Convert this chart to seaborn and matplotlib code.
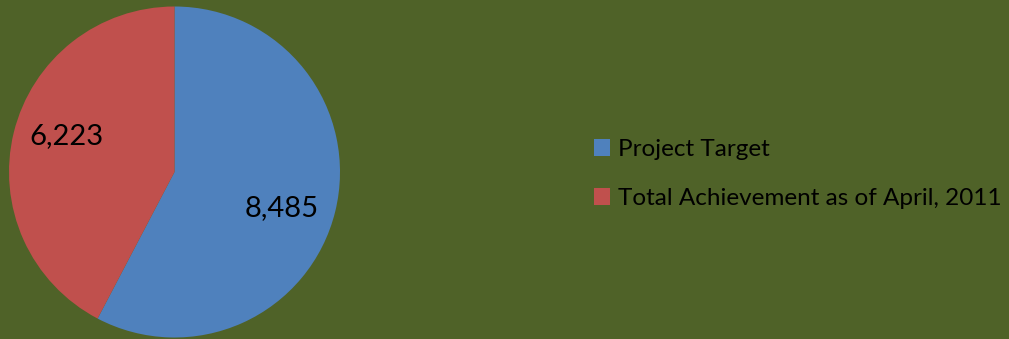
import matplotlib
matplotlib.use("Agg")
import numpy as np
import matplotlib.pyplot as plt
from matplotlib.patches import Patch
import seaborn as sns

# Project progress figures
categories = ["Project Target", "Total Achievement as of April, 2011"]
values = [8485, 6223]
colors = ["#4F81BD", "#C0504D"]
background = "#4F6228"

sns.set_style("white")
plt.rcParams["font.family"] = ["Lato", "DejaVu Sans"]

W, H = 1009, 339
fig = plt.figure(figsize=(W / 100, H / 100), dpi=100, facecolor=background)

# pie area: centre (174.5, 172) px, radius 165.5 px
cx, cy, r = 174.5, 172.0, 165.5
ax = fig.add_axes([(cx - r) / W, (H - cy - r) / H, 2 * r / W, 2 * r / H])
ax.set_facecolor(background)

palette = sns.color_palette(colors)
wedges, texts, autotexts = ax.pie(
    values,
    colors=palette,
    startangle=90,
    counterclock=False,
    autopct=lambda p: f"{p * sum(values) / 100:,.0f}",
    pctdistance=0.68,
    wedgeprops=dict(linewidth=0),
    textprops=dict(fontsize=21, color="black"),
)
# nudge the value labels a little clockwise inside their slices
for w, t in zip(wedges, autotexts):
    ang = np.deg2rad((w.theta1 + w.theta2) / 2 - 4.5)
    t.set_position((0.685 * np.cos(ang), 0.685 * np.sin(ang)))

ax.set_xlim(-1, 1)
ax.set_ylim(-1, 1)
ax.set_aspect("equal")
ax.axis("off")

handles = [Patch(facecolor=c, edgecolor="none") for c in palette]
leg = fig.legend(
    handles,
    categories,
    loc="center left",
    bbox_to_anchor=(584 / W, 1 - 174 / H),
    frameon=False,
    fontsize=17.5,
    handlelength=0.68,
    handleheight=0.68,
    handletextpad=0.3,
    labelspacing=1.15,
    borderaxespad=0,
)
for t in leg.get_texts():
    t.set_color("black")

fig.savefig("out.png", dpi=100, facecolor=background)
